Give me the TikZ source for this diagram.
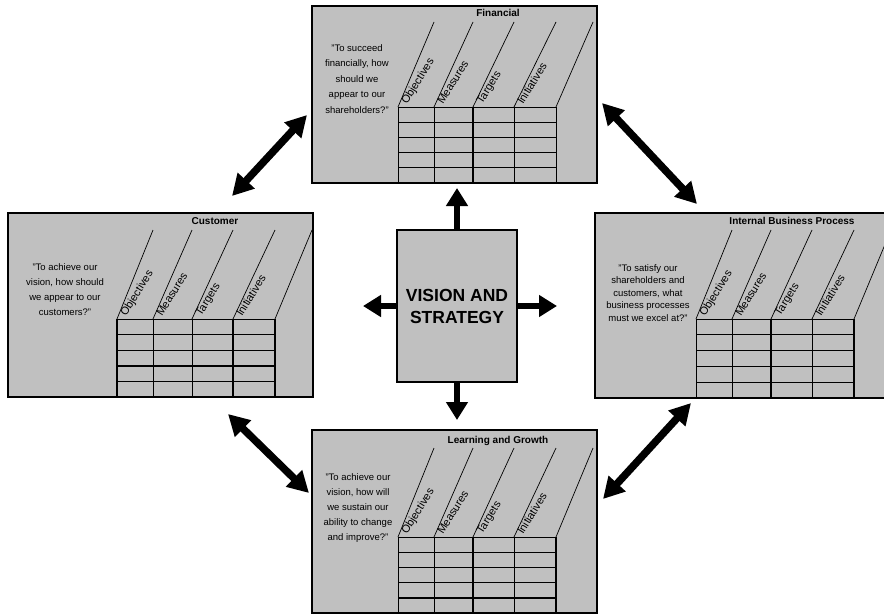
\documentclass[tikz,border=0pt]{standalone}
\usepackage{fontspec}
\setmainfont{Liberation Sans}
\usetikzlibrary{arrows.meta}
\definecolor{panelgray}{RGB}{192,192,192}

\tikzset{
  panel/.style={draw=black, fill=panelgray, inner sep=0pt, outer sep=0pt},
  gridline/.style={draw=black, line width=0.9pt},
  heavyline/.style={draw=black, line width=1.4pt},
  slant/.style={draw=black, line width=0.7pt},
  collabel/.style={rotate=58, anchor=base west, inner sep=0pt, font=\fontsize{11}{13}\selectfont},
  paneltitle/.style={inner sep=0pt, font=\fontsize{10}{12}\selectfont\bfseries},
  question/.style={inner sep=0pt, align=center},
  bigarrow/.style={line width=7.5pt, {Triangle[width=22pt,length=21pt]}-{Triangle[width=22pt,length=21pt]}},
  outarrow/.style={line width=6.5pt, -{Triangle[width=21pt,length=18pt]}},
}

% #1 name, #2-#5 panel corners, #6 table left, #7 table top, #8 top of slanted rules, #9 border width
\newcommand\scorecard[9]{%
  \node[panel, line width=#9, anchor=north west,
        minimum width={(#4-#2)*1pt}, minimum height={(#5-#3)*1pt}] (#1) at (#2,#3) {};
  \foreach \cx/\nx in {0/36,36/75,75/116,116/158,158/195}{
    \draw[gridline] (#6+\cx,#7) -- (#6+\cx,#5);
    \draw[slant] (#6+\cx,#7) -- (#6+\nx,#8);
  }
  \foreach \rw in {0,...,4}
    \draw[gridline] (#6,{#7+\rw*(#5-#7)/5}) -- (#6+159,{#7+\rw*(#5-#7)/5});
  \foreach \cx/\lab in {0/Objectives,36/Measures,75/Targets,116/Initiatives}
    \node[collabel] at (#6+\cx+9,#7-2) {\lab};
}

% heavier rules of a table: #1 table left, #2 table top, #3 table bottom,
% #4 list of row rules (1..4), #5 list of column offsets
\newcommand\heavyrules[5]{%
  \foreach \rw in {#4}
    \draw[heavyline] (#1,{#2+\rw*(#3-#2)/5}) -- (#1+159,{#2+\rw*(#3-#2)/5});
  \foreach \cx in {#5}
    \draw[heavyline] (#1+\cx,#2) -- (#1+\cx,#3);
}

\begin{document}
\begin{tikzpicture}[x=1pt, y=-1pt]
  \useasboundingbox (0,0) rectangle (884,616);
  \clip (0,0) rectangle (884,616);

  % four perspective panels
  \scorecard{panelFin}{312}{6}{597}{183}{398}{107}{22}{2.4pt}
  \heavyrules{398}{107}{183}{1,2,3}{75}
  \scorecard{panelCust}{8}{213}{313}{397}{117}{319}{230}{1.6pt}
  \heavyrules{117}{319}{397}{3}{0,116,158}
  \scorecard{panelProc}{595}{213}{892}{398}{696}{319}{230}{1.9pt}
  \heavyrules{696}{319}{398}{2,3}{75,158}
  \scorecard{panelLearn}{312}{430}{597}{613}{398}{537}{448}{2.4pt}
  \heavyrules{398}{537}{613}{1,3,4}{75,158}

  % panel titles
  \node[paneltitle] (tFin) at (498,13) {Financial};
  \node[paneltitle] (tCust) at (215,221) {Customer};
  \node[paneltitle] (tProc) at (792,221) {Internal Business Process};
  \node[paneltitle] (tLearn) at (498,441) {Learning and Growth};

  % guiding questions
  \node[question, font=\fontsize{9.5}{15.5}\selectfont] (qFin) at (357,79)
    {"To succeed\\financially, how\\should we\\appear to our\\shareholders?"};
  \node[question, font=\fontsize{9.5}{15}\selectfont] (qCust) at (65,290)
    {"To achieve our\\vision, how should\\we appear to our\\customers?"};
  \node[question, font=\fontsize{9.5}{12.5}\selectfont] (qProc) at (648,293)
    {"To satisfy our\\shareholders and\\customers, what\\business processes\\must we excel at?"};
  \node[question, font=\fontsize{9.5}{15}\selectfont] (qLearn) at (358,508)
    {"To achieve our\\vision, how will\\we sustain our\\ability to change\\and improve?"};

  % central box
  \node[panel, line width=2pt, minimum width=120pt, minimum height=152pt,
        align=center, font=\fontsize{17.5}{22}\selectfont\bfseries] (vision) at (457,306)
    {VISION AND\\STRATEGY};

  % arrows out of the central box
  \coordinate (upTip) at (457,188);
  \coordinate (downTip) at (457,420);
  \coordinate (leftTip) at (363,306);
  \coordinate (rightTip) at (557,306);
  \draw[outarrow] (vision.north) -- (upTip);
  \draw[outarrow] (vision.south) -- (downTip);
  \draw[outarrow] (vision.west) -- (leftTip);
  \draw[outarrow] (vision.east) -- (rightTip);

  % double arrows between neighbouring panels
  \coordinate (tlA) at (232,196);
  \coordinate (tlB) at (307,115);
  \coordinate (trA) at (602,103);
  \coordinate (trB) at (697,204);
  \coordinate (blA) at (228,414);
  \coordinate (blB) at (309,493);
  \coordinate (brA) at (691,403);
  \coordinate (brB) at (603,499);
  \draw[bigarrow] (tlA) -- (tlB);
  \draw[bigarrow] (trA) -- (trB);
  \draw[bigarrow] (blA) -- (blB);
  \draw[bigarrow] (brA) -- (brB);
\end{tikzpicture}
\end{document}
